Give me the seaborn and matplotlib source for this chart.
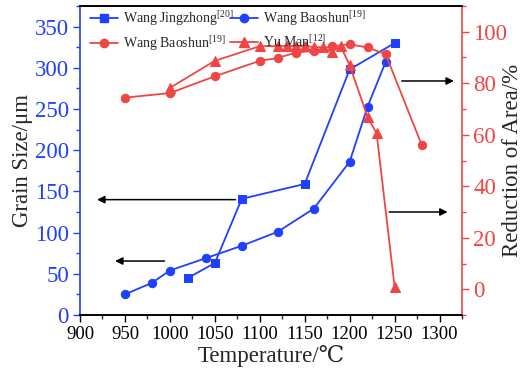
import matplotlib
matplotlib.use("Agg")
import matplotlib.pyplot as plt
import seaborn as sns
from matplotlib.ticker import MultipleLocator
from matplotlib.lines import Line2D

# Data
wj_temp = [1020, 1050, 1080, 1150, 1200, 1250]
wj_grain = [45, 63, 141, 159, 298, 330]

wb_temp = [950, 980, 1000, 1040, 1080, 1120, 1160, 1200, 1220, 1240]
wb_grain = [25, 39, 54, 69, 84, 101, 129, 186, 253, 307]

wbr_temp = [950, 1000, 1050, 1100, 1120, 1140, 1160, 1180, 1200, 1220, 1240, 1280]
wbr_ra = [74.4, 76.2, 82.7, 88.7, 89.8, 91.9, 92.6, 94.4, 95.1, 93.9, 91.3, 56.2]

ym_temp = [1000, 1050, 1100, 1120, 1130, 1140, 1150, 1160, 1170, 1180, 1190, 1200, 1220, 1230, 1250]
ym_ra = [78.2, 88.7, 94.4, 94.4, 94.4, 94.4, 94.4, 94.1, 93.9, 92.2, 94.4, 87.0, 66.9, 60.5, 1.0]

labels = ["Wang Jingzhong$^{[20]}$", "Wang Baoshun$^{[19]}$",
          "Wang Baoshun$^{[19]}$", "Yu Man$^{[12]}$"]

BLUE = "#2040ff"
RED = "#f04545"

sns.set_style("ticks")
plt.rcParams["font.family"] = ["Liberation Serif", "DejaVu Serif"]
plt.rcParams["mathtext.fontset"] = "custom"
plt.rcParams["mathtext.rm"] = "Liberation Serif"
plt.rcParams["mathtext.it"] = "Liberation Serif:italic"

fig = plt.figure(figsize=(5.24, 3.76), dpi=100)
W, H = 524, 376
L, R, T, B = 80, 462, 6, 315
ax = fig.add_axes([L/W, 1-B/H, (R-L)/W, (B-T)/H])
ax2 = ax.twinx()

def fx(px):
    return (px - L) / (R - L)

def fy(py):
    return (B - py) / (B - T)

lw = 1.3
ms = 6
sns.lineplot(x=wj_temp, y=wj_grain, ax=ax, color=BLUE, marker="s", markersize=ms-0.5,
             markeredgecolor=BLUE, linewidth=lw, sort=False)
sns.lineplot(x=wb_temp, y=wb_grain, ax=ax, color=BLUE, marker="o", markersize=ms,
             markeredgecolor=BLUE, linewidth=lw, sort=False)
sns.lineplot(x=wbr_temp, y=wbr_ra, ax=ax2, color=RED, marker="o", markersize=ms,
             markeredgecolor=RED, linewidth=lw, sort=False)
sns.lineplot(x=ym_temp, y=ym_ra, ax=ax2, color=RED, marker="^", markersize=ms+0.5,
             markeredgecolor=RED, linewidth=lw, sort=False)

ax.set_xlim(900, 1325)
ax.set_ylim(0, 375)
ax2.set_ylim(-10, 110)

ax.xaxis.set_major_locator(MultipleLocator(50))
ax.xaxis.set_minor_locator(MultipleLocator(25))
ax.yaxis.set_major_locator(MultipleLocator(50))
ax.yaxis.set_minor_locator(MultipleLocator(25))
ax2.yaxis.set_major_locator(MultipleLocator(20))
ax2.yaxis.set_minor_locator(MultipleLocator(10))

ax.tick_params(axis="x", which="major", direction="out", length=5, width=1, labelsize=13.5, colors="black", pad=3)
ax.tick_params(axis="x", which="minor", direction="out", length=3, width=1)
ax.tick_params(axis="y", which="major", direction="out", length=5, width=1, labelsize=16.5, colors=BLUE, pad=3)
ax.tick_params(axis="y", which="minor", direction="out", length=3, width=1, colors=BLUE)
ax2.tick_params(axis="y", which="major", direction="out", length=5, width=1, labelsize=16.5, colors=RED, pad=3)
ax2.tick_params(axis="y", which="minor", direction="out", length=3, width=1, colors=RED)

for a in (ax, ax2):
    for s in a.spines.values():
        s.set_linewidth(1.2)
ax.spines["left"].set_color(BLUE)
ax2.spines["left"].set_visible(False)
ax.spines["right"].set_visible(False)
ax2.spines["right"].set_color(RED)
for a in (ax, ax2):
    a.spines["top"].set_color("black")
    a.spines["bottom"].set_color("black")

ax.set_xlabel("Temperature/℃", fontsize=16.5)
ax.set_ylabel("Grain Size/μm", fontsize=16.5)
ax2.set_ylabel("Reduction of Area/%", fontsize=16.5)
ax.xaxis.set_label_coords(0.5, fy(345))
ax.yaxis.set_label_coords(fx(33), 0.5)
ax2.yaxis.set_label_coords(fx(502), 0.5)

# Arrows
ap = dict(arrowstyle="-|>", color="black", lw=1.1, mutation_scale=11, shrinkA=0, shrinkB=0)
ax.annotate("", xy=(919, 140), xytext=(1073, 140), arrowprops=ap)
ax.annotate("", xy=(939, 65.5), xytext=(994, 65.5), arrowprops=ap)
ax.annotate("", xy=(1309, 125), xytext=(1244, 125), arrowprops=ap)
ax.annotate("", xy=(1316, 284), xytext=(1258, 284), arrowprops=ap)

h_wj = Line2D([], [], color=BLUE, marker="s", markersize=ms-0.5, lw=lw)
h_wbr = Line2D([], [], color=RED, marker="o", markersize=ms, lw=lw)
h_wb = Line2D([], [], color=BLUE, marker="o", markersize=ms, lw=lw)
h_ym = Line2D([], [], color=RED, marker="^", markersize=ms+0.5, lw=lw)

common = dict(loc="upper left", frameon=False, fontsize=10, handlelength=2.0,
              handletextpad=0.35, labelspacing=0.45, borderpad=0, borderaxespad=0)
leg1 = ax2.legend([h_wj, h_wbr], [labels[0], labels[2]],
                  bbox_to_anchor=(fx(90), fy(9)), **common)
ax2.add_artist(leg1)
leg2 = ax2.legend([h_wb, h_ym], [labels[1], labels[3]],
                  bbox_to_anchor=(fx(230), fy(9)), **common)

fig.savefig("out.png", dpi=100)
